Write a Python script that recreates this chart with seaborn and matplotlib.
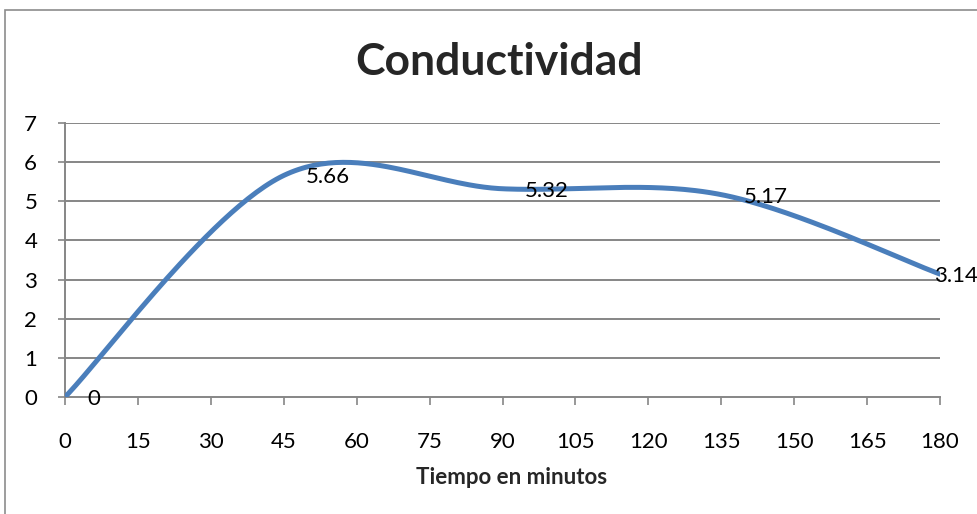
import numpy as np
import pandas as pd
import matplotlib
matplotlib.use("Agg")
import matplotlib.pyplot as plt
from matplotlib.patches import Rectangle
import seaborn as sns

# Measurements
tiempo = [0, 45, 90, 135, 180]
conductividad = [0, 5.66, 5.32, 5.17, 3.14]
etiquetas = ["0", "5.66", "5.32", "5.17", "3.14"]
x_ticks = list(range(0, 181, 15))
y_ticks = list(range(0, 8))

sns.set_theme(style="white")
plt.rcParams["font.family"] = ["Lato", "DejaVu Sans"]

LINE = "#4A7EBB"
GRID = "#868686"


def smooth_curve(xs, ys, steps=60):
    """Cardinal (Catmull-Rom style) Bezier smoothing through the points."""
    p = np.column_stack([xs, ys]).astype(float)
    pts = np.vstack([p[0], p, p[-1]])
    out = []
    t = np.linspace(0, 1, steps)[:, None]
    for i in range(1, len(pts) - 2):
        p0, p1, p2, p3 = pts[i - 1], pts[i], pts[i + 1], pts[i + 2]
        c1 = p1 + (p2 - p0) / 6.0
        c2 = p2 - (p3 - p1) / 6.0
        seg = ((1 - t) ** 3) * p1 + 3 * ((1 - t) ** 2) * t * c1 + 3 * (1 - t) * t ** 2 * c2 + t ** 3 * p2
        out.append(seg if i == 1 else seg[1:])
    return np.vstack(out)


curve = smooth_curve(tiempo, conductividad)
df = pd.DataFrame({"Tiempo": curve[:, 0], "Conductividad": curve[:, 1]})

fig = plt.figure(figsize=(9.77, 5.14), dpi=100)
fig.patch.set_facecolor("white")
ax = fig.add_axes([65 / 977, 1 - 397 / 514, 875 / 977, 274 / 514])

# Outer chart frame
fig.patches.append(Rectangle((5 / 977, -0.1), 1.2, 1 - 10 / 514 + 0.1,
                             transform=fig.transFigure, fill=False,
                             edgecolor="#8c8c8c", linewidth=1.2, clip_on=False))

for yv in y_ticks[1:]:
    ax.axhline(yv, color=GRID, linewidth=1.4, zorder=1)

sns.lineplot(data=df, x="Tiempo", y="Conductividad", ax=ax, color=LINE,
             linewidth=3.6, sort=False, estimator=None, zorder=3,
             solid_capstyle="round")

ax.set_xlim(0, 180)
ax.set_ylim(0, 7)
ax.set_xticks(x_ticks)
ax.set_yticks(y_ticks)
ax.set_xticklabels([str(v) for v in x_ticks], fontsize=16)
ax.set_yticklabels([str(v) for v in y_ticks], fontsize=16)

for side in ["top", "right"]:
    ax.spines[side].set_visible(False)
for side in ["left", "bottom"]:
    ax.spines[side].set_color(GRID)
    ax.spines[side].set_linewidth(1.4)

ax.tick_params(axis="x", direction="out", length=6, width=1.2, color=GRID,
               pad=19, labelcolor="black", bottom=True)
ax.tick_params(axis="y", direction="out", length=5, width=1.2, color=GRID,
               pad=15, labelcolor="black", left=True)

ax.set_xlabel("Tiempo en minutos", fontsize=16, fontweight="bold")
ax.xaxis.set_label_coords(0.51, -0.255)
ax.set_ylabel("")

fig.text(499 / 977, 1 - 62 / 514, "Conductividad", ha="center", va="center",
         fontsize=32, fontweight="bold")

# Value labels beside each point
for i, (xv, yv, lab) in enumerate(zip(tiempo, conductividad, etiquetas)):
    last = i == len(tiempo) - 1
    ax.annotate(lab, (xv, yv), xytext=(-4 if last else 16, 0),
                textcoords="offset points", ha="left", va="center_baseline",
                fontsize=16, color="black", zorder=4, annotation_clip=False)

fig.savefig("out.png", dpi=100, facecolor="white")
